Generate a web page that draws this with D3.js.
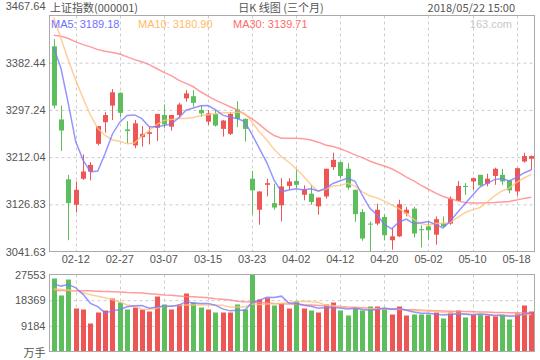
<!DOCTYPE html>
<html><head><meta charset="utf-8">
<script src="https://cdn.jsdelivr.net/npm/d3@7/dist/d3.min.js"></script>
<style>body{margin:0;background:#fff}svg{display:block}</style>
</head><body><svg id="c" width="540" height="360"></svg>
<script>
const dates=["02-07","02-08","02-09","02-12","02-13","02-14","02-22","02-23","02-26","02-27","02-28","03-01","03-02","03-05","03-06","03-07","03-08","03-09","03-12","03-13","03-14","03-15","03-16","03-19","03-20","03-21","03-22","03-23","03-26","03-27","03-28","03-29","03-30","04-02","04-03","04-04","04-09","04-10","04-11","04-12","04-13","04-16","04-17","04-18","04-19","04-20","04-23","04-24","04-25","04-26","04-27","05-02","05-03","05-04","05-07","05-08","05-09","05-10","05-11","05-14","05-15","05-16","05-17","05-18","05-21","05-22"];
const openP=[3412,3280,3172,3126,3173,3186,3236,3275,3305,3328,3262,3233,3248,3254,3265,3288,3267,3288,3318,3322,3297,3276,3290,3263,3254,3298,3281,3173,3117,3162,3129,3125,3160,3169,3144,3146,3123,3141,3194,3203,3191,3153,3113,3092,3092,3104,3062,3069,3110,3119,3082,3087,3072,3093,3092,3133,3160,3168,3180,3164,3178,3180,3170,3150,3204,3209];
const highP=[3425,3305,3180,3168,3217,3203,3268,3293,3335,3329,3277,3279,3268,3267,3290,3307,3288,3310,3333,3333,3305,3297,3297,3279,3293,3313,3282,3187,3150,3173,3164,3174,3174,3191,3161,3162,3139,3191,3220,3204,3201,3153,3118,3096,3128,3109,3084,3135,3122,3122,3089,3096,3105,3105,3141,3169,3165,3175,3180,3182,3193,3191,3171,3193,3220,3215];
const lowP=[3300,3223,3062,3112,3171,3170,3233,3256,3279,3284,3237,3228,3231,3235,3241,3264,3260,3282,3312,3303,3285,3270,3267,3249,3252,3266,3240,3108,3090,3141,3117,3096,3153,3156,3134,3126,3108,3137,3189,3174,3153,3095,3061,3042,3089,3062,3045,3068,3105,3067,3049,3063,3054,3085,3090,3132,3144,3153,3160,3159,3162,3162,3147,3142,3202,3189];
const closeP=[3305,3260,3129,3153,3186,3198,3268,3288,3329,3292,3259,3273,3254,3257,3290,3271,3288,3307,3327,3310,3291,3291,3269,3278,3290,3281,3263,3152,3150,3165,3121,3159,3168,3162,3154,3131,3139,3191,3207,3178,3157,3109,3065,3091,3117,3071,3069,3127,3117,3074,3080,3080,3100,3087,3137,3160,3158,3174,3161,3173,3191,3168,3152,3192,3214,3214];
const ma5=[3410,3372,3308,3240,3206.6,3185.2,3186.8,3218.6,3253.8,3275,3287.2,3288.2,3281.4,3267,3266.6,3269,3272,3282.6,3296.6,3300.6,3304.6,3305.2,3297.6,3287.8,3283.8,3281.8,3276.2,3252.8,3227.2,3202.2,3170.2,3149.4,3152.6,3155,3152.8,3154.8,3150.8,3155.4,3164.4,3169.2,3174.4,3168.4,3143.2,3120,3107.8,3090.6,3082.6,3095,3100.2,3091.6,3093.4,3095.6,3090.2,3084.2,3096.8,3112.8,3128.4,3143.2,3158,3165.2,3171.4,3173.4,3169,3175.2,3183.4,3189.18];
const ma10=[3464,3426,3387,3351,3318,3288,3264,3251,3243,3240.8,3236.2,3237.5,3250,3260.4,3270.8,3278.1,3280.1,3282,3281.8,3283.6,3286.8,3288.6,3290.1,3292.2,3292.2,3293.2,3290.7,3275.2,3257.5,3243,3226,3212.8,3202.7,3191.1,3177.5,3162.5,3150.1,3154,3159.7,3161,3164.6,3159.6,3149.3,3142.2,3138.5,3132.5,3125.5,3119.1,3110.1,3099.7,3092,3089.1,3092.6,3092.2,3094.2,3103.1,3112,3116.7,3121.1,3131,3142.1,3150.9,3156.1,3166.6,3174.3,3180.9];
const ma30=[3432,3430,3426,3420,3415,3411,3406,3403,3401,3398,3393,3388,3384,3379,3372,3365,3359,3351,3345,3339,3330,3322,3315,3309,3303,3297,3289,3281,3271,3260,3251,3246,3246,3246,3245,3243,3239,3234,3231,3227,3222,3216,3211,3205,3200,3196,3191,3184,3176,3169,3161,3154,3147,3141,3137,3133,3130,3129,3129,3129.5,3130,3131,3132,3134.5,3137.5,3139.71];
const volume=[26120,20040,25760,15390,15030,10020,13950,14670,18960,17530,15030,15740,15030,14310,19680,16820,15030,16820,20750,17530,15740,15030,13950,13950,13950,16820,15030,27553,18610,19070,16460,17280,15390,18000,15390,14670,13950,16820,17530,14670,12880,15390,14670,16100,16100,15390,13240,16100,12880,13240,13240,13240,13950,11810,13950,14670,12170,13240,13240,12880,12520,12880,11450,13600,16460,14310];
const volMa5=[24200,23400,24000,22800,20460,17240,16040,13820,14540,15040,16040,16380,16440,15500,15940,16300,16160,16520,17820,17380,17160,17160,16600,15240,14540,14760,14760,17470,18390,19410,19350,19810,17380,17260,16520,16160,15500,15780,15680,15540,15180,15460,15040,14760,15040,15540,15100,15380,14740,14160,13720,13720,13300,13080,13240,13540,13340,13180,13460,13240,12800,12940,12600,12680,13400,13760];
const volMa10=[22400,22200,22000,21600,21000,20300,19800,19200,18500,17750,16640,16210,15130,15020,15490,16170,16270,16480,16660,16660,16730,16660,16560,16530,15960,15960,15960,17040,16820,16980,17060,17290,17430,17830,17970,17760,17660,16580,16470,16030,15670,15480,15410,15220,15290,15360,15280,15210,14750,14600,14630,14410,14340,13910,13700,13630,13530,13240,13270,13240,13170,13140,12890,13070,13320,13280];
const volMa30=[21800,21800,21750,21750,21700,21700,21600,21500,21400,21300,21100,21000,20900,20700,20500,20200,20100,19900,19700,19600,19400,19200,18900,18700,18400,18000,17800,17700,17500,17400,17200,17100,17000,16900,16700,16600,16500,16400,16200,16100,15900,15800,15700,15500,15400,15200,15100,15000,14900,14900,14800,14700,14600,14500,14400,14300,14300,14200,14100,14100,14000,14000,13900,13900,13800,13800];
const priceTicks=[3467.64,3382.44,3297.24,3212.04,3126.83,3041.63];
const volTicks=[27553,18369,9184];
const dateTicks=["02-12","02-27","03-07","03-15","03-23","04-02","04-12","04-20","05-02","05-10","05-18"];
const titleLeft="上证指数(000001)", titleMid="日K 线图 (三个月)", titleRight="2018/05/22 15:00";
const legendItems=[["MA5: 3189.18","#7070ff"],["MA10: 3180.90","#ffbb66"],["MA30: 3139.71","#ff6b6b"]];
const volUnit="万手", watermark="163.com";

const UP="#ee5555", DOWN="#5cbf5c";
const C_MA5="#7b7bff", C_MA10="#ffc37f", C_MA30="#ff8585";
const L=49.5,R=534.5,T=15.5,B=251.5,VT=274.5,VB=351.5;
const latin="'Liberation Sans', Arial, sans-serif", cjk="'Noto Sans CJK SC', sans-serif";
const svg=d3.select("#c");

const x=d3.scaleBand().domain(dates).range([50,535]).paddingInner(0.32).paddingOuter(0.16);
const cx=d=>x(d)+x.bandwidth()/2;
const y=d3.scaleLinear().domain([priceTicks[5],priceTicks[0]]).range([B,T]);
const yv=d3.scaleLinear().domain([0,volTicks[0]]).range([VB,VT]);

// header
svg.append("text").attr("x",50).attr("y",7).attr("dominant-baseline","central").attr("font-family",cjk).attr("font-size",11).attr("fill","#555").text(titleLeft);
svg.append("text").attr("x",281).attr("y",7).attr("text-anchor","middle").attr("dominant-baseline","central").attr("font-family",cjk).attr("font-size",11).attr("fill","#555").text(titleMid);
svg.append("text").attr("x",515).attr("y",7).attr("text-anchor","end").attr("dominant-baseline","central").attr("font-family",cjk).attr("font-size",11).attr("fill","#555").text(titleRight);

// price axis with gridlines
const ya=svg.append("g").attr("transform",`translate(${L},0)`)
  .call(d3.axisLeft(y).tickValues(priceTicks).tickFormat(d=>d.toFixed(2)).tickSize(-(R-L)).tickPadding(4));
ya.select(".domain").remove();
ya.selectAll(".tick line").attr("stroke","#ccc").attr("stroke-dasharray","3,3")
  .filter(d=>d===priceTicks[0]||d===priceTicks[5]).remove();
ya.selectAll(".tick text").attr("font-family",latin).attr("font-size",11).attr("fill","#555")
  .filter(d=>d===priceTicks[0]).attr("dy","-0.55em");

// volume axis with gridlines
const va=svg.append("g").attr("transform",`translate(${L},0)`)
  .call(d3.axisLeft(yv).tickValues(volTicks).tickFormat(d3.format("d")).tickSize(-(R-L)).tickPadding(4));
va.select(".domain").remove();
va.selectAll(".tick line").attr("stroke","#ccc").attr("stroke-dasharray","3,3")
  .filter(d=>d===volTicks[0]).remove();
va.selectAll(".tick text").attr("font-family",latin).attr("font-size",11).attr("fill","#555");
svg.append("text").attr("x",L-4).attr("y",VB).attr("text-anchor","end").attr("dominant-baseline","central")
  .attr("font-family",cjk).attr("font-size",11).attr("fill","#555").text(volUnit);

// vertical gridlines
const vg=svg.append("g");
dateTicks.forEach(t=>{
  const xx=Math.round(cx(t))+0.5;
  [[T,B],[VT,VB]].forEach(([a,b])=>vg.append("line").attr("x1",xx).attr("x2",xx).attr("y1",a).attr("y2",b)
    .attr("stroke","#ccc").attr("stroke-dasharray","3,3"));
});

// date axis
const xa=svg.append("g").attr("transform",`translate(0,${B})`)
  .call(d3.axisBottom(x).tickValues(dateTicks).tickSize(0).tickPadding(4));
xa.select(".domain").remove();
xa.selectAll(".tick text").attr("font-family",latin).attr("font-size",11).attr("fill","#555");

// candles
const cg=svg.append("g");
dates.forEach((d,i)=>{
  const up=closeP[i]>=openP[i], col=up?UP:DOWN;
  const xm=Math.round(cx(d));
  cg.append("line").attr("x1",xm+0.5).attr("x2",xm+0.5).attr("y1",y(highP[i])).attr("y2",y(lowP[i])).attr("stroke",col).attr("stroke-width",1);
  const top=y(Math.max(openP[i],closeP[i])), bot=y(Math.min(openP[i],closeP[i]));
  cg.append("rect").attr("x",xm-2).attr("width",5).attr("y",top).attr("height",Math.max(1,bot-top)).attr("fill",col);
});

// volume bars
const vb=svg.append("g");
dates.forEach((d,i)=>{
  const up=closeP[i]>=openP[i];
  const xm=Math.round(cx(d));
  vb.append("rect").attr("x",xm-2).attr("width",5).attr("y",yv(volume[i])).attr("height",yv(0)-yv(volume[i])).attr("fill",up?UP:DOWN);
});

// MA lines
const line=(ys,arr)=>d3.line().x((v,i)=>cx(dates[i])).y(v=>ys(v)).curve(d3.curveLinear)(arr);
[[ma30,C_MA30],[ma10,C_MA10],[ma5,C_MA5]].forEach(([a,c])=>
  svg.append("path").attr("d",line(y,a)).attr("fill","none").attr("stroke",c).attr("stroke-width",1.5).attr("stroke-opacity",0.8));
[[volMa30,C_MA30],[volMa10,C_MA10],[volMa5,C_MA5]].forEach(([a,c])=>
  svg.append("path").attr("d",line(yv,a)).attr("fill","none").attr("stroke",c).attr("stroke-width",1.5).attr("stroke-opacity",0.8));

// frames
svg.append("rect").attr("x",L).attr("y",T).attr("width",R-L).attr("height",B-T).attr("fill","none").attr("stroke","#aaa");
svg.append("rect").attr("x",L).attr("y",VT).attr("width",R-L).attr("height",VB-VT).attr("fill","none").attr("stroke","#aaa");

// legend
let lx=[51,138,233];
legendItems.forEach(([t,c],k)=>svg.append("text").attr("x",lx[k]).attr("y",23.5).attr("dominant-baseline","central")
  .attr("font-family",latin).attr("font-size",11).attr("fill",c).text(t));
svg.append("text").attr("x",512).attr("y",23.5).attr("text-anchor","end").attr("dominant-baseline","central")
  .attr("font-family",latin).attr("font-size",11).attr("fill","#c8c8c8").text(watermark);
</script></body></html>
